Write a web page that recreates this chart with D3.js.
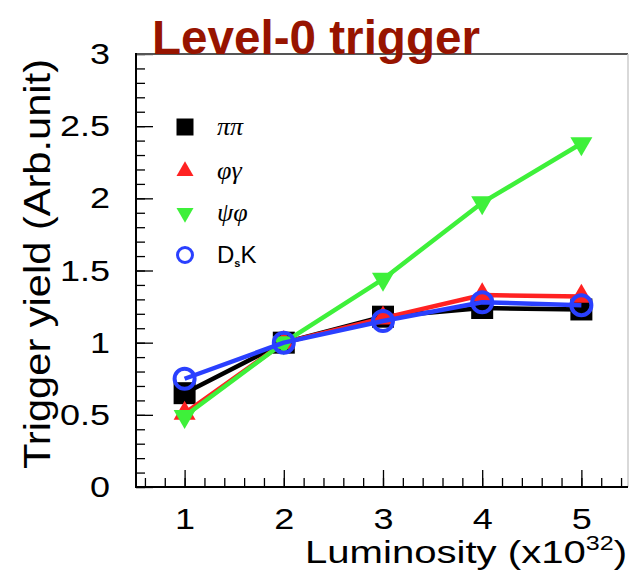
<!DOCTYPE html>
<html>
<head>
<meta charset="utf-8">
<script src="https://cdn.jsdelivr.net/npm/d3@7"></script>
<style>
  html, body { margin: 0; padding: 0; background: #fff; }
  svg { display: block; font-family: "Liberation Sans", Arial, Helvetica, sans-serif; }
</style>
</head>
<body>
<svg id="chart" width="629" height="572"></svg>
<script>
// Luminosity points (x10^32)
const luminosity = [1, 2, 3, 4, 5];

// Trigger yield per channel, normalised to 1 at L = 2
const pipi   = [0.65, 1.00, 1.18, 1.24, 1.23];
const phigam = [0.51, 1.00, 1.17, 1.33, 1.32];
const psiphi = [0.49, 1.00, 1.44, 1.97, 2.38];
const dsk    = [0.75, 1.00, 1.15, 1.28, 1.26];

const seriesNames = ["ππ", "φγ", "ψφ", "DK"];
const yTickValues = [0, 0.5, 1, 1.5, 2, 2.5, 3];
const xTickValues = [1, 2, 3, 4, 5];

const series = [
  { name: seriesNames[0], values: pipi,   color: "#000000", marker: "square" },
  { name: seriesNames[1], values: phigam, color: "#ff2222", marker: "up" },
  { name: seriesNames[2], values: psiphi, color: "#3ef03a", marker: "down" },
  { name: seriesNames[3], values: dsk,    color: "#2a40ff", marker: "circle" }
];

const svg = d3.select("#chart");
const frameL = 136, frameR = 628, frameT = 54, frameB = 487;
const labelStretch = 1.2;
const sans = "'Liberation Sans', Arial, Helvetica, sans-serif";
const serif = "'Liberation Serif', 'Times New Roman', serif";

const x = d3.scaleLinear().domain([0.51, 5.47]).range([frameL, frameR]);
const y = d3.scaleLinear().domain([0, 3]).range([frameB, frameT]);

// Minor ticks
svg.append("g")
  .attr("transform", `translate(${frameL},0)`)
  .call(d3.axisLeft(y).tickValues(d3.range(0, 3.001, 0.1).map(v => +v.toFixed(1)))
        .tickSizeInner(-9).tickSizeOuter(0).tickFormat(""))
  .call(g => g.select(".domain").remove())
  .call(g => g.selectAll("line").attr("stroke", "#000").attr("stroke-width", 1.3));

svg.append("g")
  .attr("transform", `translate(0,${frameB})`)
  .call(d3.axisBottom(x).tickValues(d3.range(0.6, 5.401, 0.2).map(v => +v.toFixed(1)))
        .tickSizeInner(-9).tickSizeOuter(0).tickFormat(""))
  .call(g => g.select(".domain").remove())
  .call(g => g.selectAll("line").attr("stroke", "#000").attr("stroke-width", 1.3));

// Major ticks with labels (labels drawn slightly wide)
svg.append("g")
  .attr("transform", `translate(${frameL},0)`)
  .call(d3.axisLeft(y).tickValues(yTickValues).tickSizeInner(-17).tickSizeOuter(0)
        .tickPadding(26).tickFormat(d3.format("")))
  .call(g => g.select(".domain").remove())
  .call(g => g.selectAll("line").attr("stroke", "#000").attr("stroke-width", 1.3))
  .call(g => g.selectAll("text").attr("font-size", 30).attr("fill", "#000")
        .style("font-family", sans)
        .attr("x", -26 / labelStretch)
        .attr("transform", `scale(${labelStretch},1)`));

svg.append("g")
  .attr("transform", `translate(0,${frameB})`)
  .call(d3.axisBottom(x).tickValues(xTickValues).tickSizeInner(-17).tickSizeOuter(0)
        .tickPadding(21).tickFormat(d3.format("d")))
  .call(g => g.select(".domain").remove())
  .call(g => g.selectAll("line").attr("stroke", "#000").attr("stroke-width", 1.3))
  .call(g => g.selectAll("text").attr("font-size", 30).attr("fill", "#000")
        .style("font-family", sans)
        .attr("transform", `scale(${labelStretch},1)`));

// Frame
svg.append("line").attr("x1", frameL).attr("x2", frameR).attr("y1", frameT).attr("y2", frameT)
  .attr("stroke", "#555").attr("stroke-width", 2);
svg.append("line").attr("x1", frameR).attr("x2", frameR).attr("y1", frameT).attr("y2", frameB)
  .attr("stroke", "#ccc").attr("stroke-width", 1.5);
svg.append("line").attr("x1", frameL).attr("x2", frameL).attr("y1", frameT - 1).attr("y2", frameB + 1)
  .attr("stroke", "#000").attr("stroke-width", 2);
svg.append("line").attr("x1", frameL - 1).attr("x2", frameR).attr("y1", frameB).attr("y2", frameB)
  .attr("stroke", "#000").attr("stroke-width", 2);

// Marker paths
function markerPath(kind, size) {
  const s = size;
  if (kind === "square") return d3.symbol(d3.symbolSquare, s * s)();
  if (kind === "up" || kind === "down") return d3.symbol(d3.symbolTriangle, Math.sqrt(3) / 4 * s * s)();
  return d3.symbol(d3.symbolCircle, Math.PI * (s / 2) * (s / 2))();
}
function drawMarker(g, kind, color, size, sw) {
  const p = g.append("path").attr("d", markerPath(kind, size));
  if (kind === "down") p.attr("transform", "rotate(180)");
  if (kind === "circle") p.attr("fill", "none").attr("stroke", color).attr("stroke-width", sw);
  else p.attr("fill", color);
}

const line = d3.line().x((d, i) => x(luminosity[i])).y(d => y(d));

const plot = svg.append("g");
series.forEach(s => {
  const g = plot.append("g");
  g.append("path").datum(s.values).attr("d", line)
    .attr("fill", "none").attr("stroke", s.color).attr("stroke-width", 4.5)
    .attr("stroke-linejoin", "round");
  s.values.forEach((v, i) => {
    const m = g.append("g").attr("transform", `translate(${x(luminosity[i])},${y(v)})`);
    drawMarker(m, s.marker, s.color, s.marker === "circle" ? 20 : 22, 4);
  });
});

// Legend
const legend = svg.append("g");
const legendY = [127, 171, 213, 255];
series.forEach((s, i) => {
  const m = legend.append("g").attr("transform", `translate(185,${legendY[i]})`);
  drawMarker(m, s.marker, s.color, s.marker === "circle" ? 15 : 17, 3);
  const t = legend.append("text").attr("x", 217).attr("y", legendY[i] + 8)
    .attr("font-size", 26).attr("fill", "#000");
  if (i < 3) {
    t.style("font-family", serif).style("font-style", "italic").text(s.name);
  } else {
    t.style("font-family", sans).attr("font-size", 24);
    t.append("tspan").text("D");
    t.append("tspan").attr("font-size", 11).attr("font-weight", "bold").attr("dy", 4).text("s");
    t.append("tspan").attr("dy", -4).text("K");
  }
});

// Axis titles
const xt = svg.append("text").attr("x", 627).attr("y", 563).attr("text-anchor", "end")
  .attr("font-size", 32).attr("fill", "#000").style("font-family", sans)
  .attr("textLength", 322).attr("lengthAdjust", "spacingAndGlyphs");
xt.append("tspan").text("Luminosity (x10");
xt.append("tspan").attr("font-size", 20).attr("dy", -13).text("32");
xt.append("tspan").attr("dy", 13).text(")");

svg.append("text")
  .attr("transform", "translate(50,264) rotate(-90)")
  .attr("text-anchor", "middle").attr("font-size", 37).attr("fill", "#000")
  .style("font-family", sans)
  .attr("textLength", 410).attr("lengthAdjust", "spacingAndGlyphs")
  .text("Trigger yield (Arb.unit)");

// Title
svg.append("text").attr("x", 152).attr("y", 54)
  .attr("font-size", 48).attr("font-weight", "bold").attr("fill", "#971400")
  .style("font-family", sans)
  .attr("textLength", 328).attr("lengthAdjust", "spacingAndGlyphs")
  .text("Level-0 trigger");
</script>
</body>
</html>
